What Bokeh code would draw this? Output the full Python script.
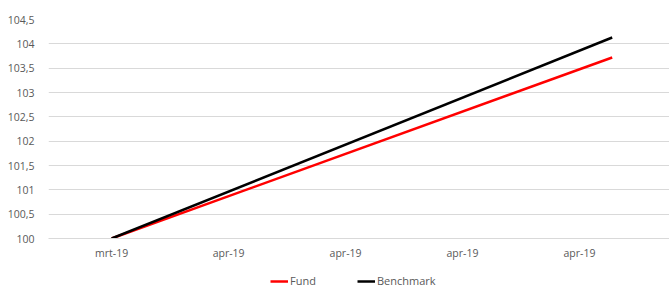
from bokeh.plotting import figure
from bokeh.layouts import column
from bokeh.models import FixedTicker, Range1d, Legend, LegendItem
from bokeh.embed import file_html
from bokeh.resources import INLINE

# Data
x_tick_labels = ["mrt-19", "apr-19", "apr-19", "apr-19", "apr-19"]
x_points = [0, 4.28]
fund = [100.0, 103.72]
benchmark = [100.0, 104.13]
y_ticks = [100, 100.5, 101, 101.5, 102, 102.5, 103, 103.5, 104, 104.5]
y_tick_labels = ["100", "100,5", "101", "101,5", "102", "102,5", "103", "103,5", "104", "104,5"]
series_names = ["Fund", "Benchmark"]
series_colors = ["#ff0000", "#000000"]

FONT = "Open Sans"
TXT = "#595959"
GRID = "#d9d9d9"

p = figure(width=669, height=270, output_backend="svg", toolbar_location=None,
           x_range=Range1d(-0.54, 4.77), y_range=Range1d(100, 104.5),
           min_border_left=48, min_border_right=0, min_border_top=19, min_border_bottom=32)
p.outline_line_color = None
p.background_fill_color = "white"

p.line(x_points, fund, line_color=series_colors[0], line_width=2.5)
p.line(x_points, benchmark, line_color=series_colors[1], line_width=2.5)

p.xaxis.ticker = FixedTicker(ticks=list(range(len(x_tick_labels))))
p.xaxis.major_label_overrides = {i: lab for i, lab in enumerate(x_tick_labels)}
p.xaxis.axis_line_color = GRID
p.xaxis.major_tick_line_color = None
p.xaxis.minor_tick_line_color = None
p.xaxis.major_label_text_font = FONT
p.xaxis.major_label_text_font_size = "10.5px"
p.xaxis.major_label_text_color = TXT
p.xaxis.major_label_standoff = 1
p.xgrid.grid_line_color = None

p.yaxis.ticker = FixedTicker(ticks=y_ticks)
p.yaxis.major_label_overrides = {t: lab for t, lab in zip(y_ticks, y_tick_labels)}
p.yaxis.axis_line_color = None
p.yaxis.major_tick_line_color = None
p.yaxis.minor_tick_line_color = None
p.yaxis.major_label_text_font = FONT
p.yaxis.major_label_text_font_size = "10.5px"
p.yaxis.major_label_text_color = TXT
p.yaxis.major_label_standoff = 8
p.ygrid.grid_line_color = GRID
p.ygrid.grid_line_width = 1

# Legend strip (lines drawn outside its visible range; only the legend shows)
lg = figure(width=669, height=18, output_backend="svg", toolbar_location=None,
            x_axis_type=None, y_axis_type=None, x_range=Range1d(-10, -9), y_range=Range1d(0, 1),
            min_border=0)
lg.outline_line_color = None
lg.grid.visible = False
items = []
for name, col, vals in zip(series_names, series_colors, [fund, benchmark]):
    r = lg.line(x_points, vals, line_color=col, line_width=2.5)
    items.append(LegendItem(label=name, renderers=[r]))
legend = Legend(items=items, orientation="horizontal", location=(222, 0),
                label_text_font=FONT, label_text_font_size="11px", label_text_color=TXT,
                label_height=12, glyph_height=12,
                border_line_color=None, background_fill_alpha=0,
                glyph_width=18, label_standoff=2, spacing=41, padding=0, margin=0)
lg.add_layout(legend)

open("out.html", "w").write(file_html(column(p, lg, spacing=0), INLINE))
